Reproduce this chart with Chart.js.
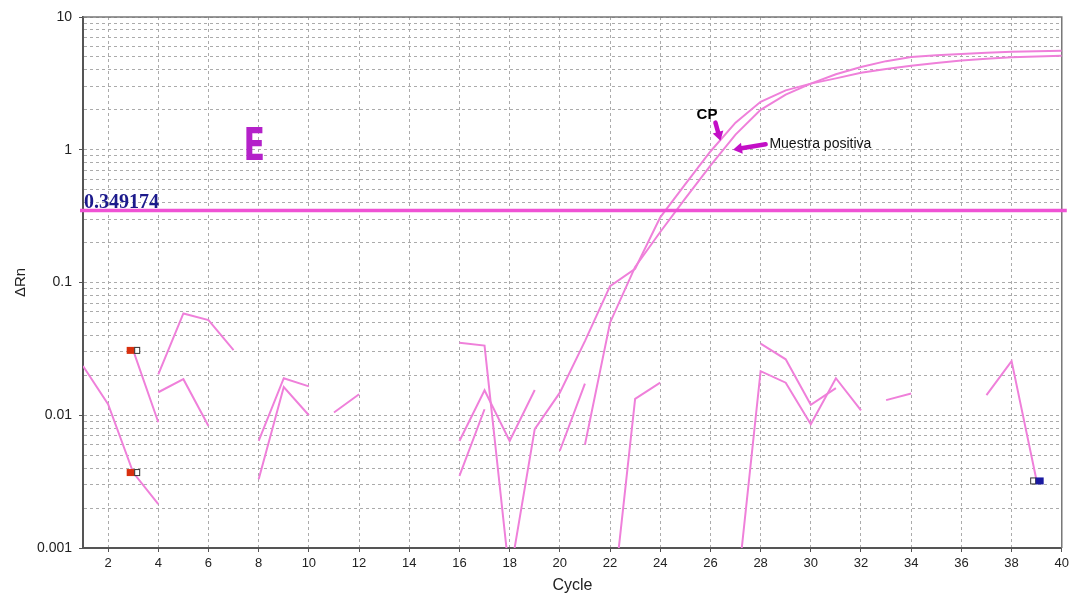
<!DOCTYPE html>
<html lang="en">
<head>
  <meta charset="UTF-8">
  <script src="https://cdn.jsdelivr.net/npm/chart.js@4.4.1/dist/chart.umd.min.js"></script>
  <style>
    body { margin: 0; background: #fff; }
    #wrap { width: 1073px; height: 598px; position: relative; }
  </style>
  <title>qPCR amplification</title>
</head>
<body>
  <div id="wrap"><canvas id="chart"></canvas></div>

  <script>
    // cycles on the x axis
    const cycles = [1, 2, 3, 4, 5, 6, 7, 8, 9, 10, 11, 12, 13, 14, 15, 16, 17, 18, 19, 20,
      21, 22, 23, 24, 25, 26, 27, 28, 29, 30, 31, 32, 33, 34, 35, 36, 37, 38, 39, 40];

    // delta Rn per cycle, null where the value is negative (not drawn on a log axis)
    const sampleA = [null, null, null, 0.0203, 0.0585, 0.0521, 0.031, null, null, null,
      0.0105, 0.0144, null, null, null, 0.0352, 0.0335, 0.0006, 0.00785, 0.0148,
      0.0362, 0.094, 0.127, 0.31, 0.55, 0.97, 1.6, 2.3, 2.8, 3.15,
      3.45, 3.8, 4.05, 4.3, 4.5, 4.7, 4.85, 4.98, 5.05, 5.1];
    const sampleB = [null, null, null, 0.0149, 0.0187, 0.0083, null, null, null, null,
      null, null, null, null, null, null, null, null, null, null,
      0.006, 0.0498, 0.131, 0.24, 0.43, 0.76, 1.3, 2.0, 2.6, 3.15,
      3.7, 4.2, 4.65, 5.0, 5.15, 5.27, 5.38, 5.47, 5.53, 5.58];
    const sampleC = [0.0235, 0.0121, 0.0037, 0.00214, null, null, null, 0.0064, 0.019, 0.0165,
      null, null, null, null, null, 0.0064, 0.0154, 0.0064, 0.0155, null,
      null, 0.00025, 0.0133, 0.0176, null, null, 0.00036, 0.0215, 0.0176, 0.00855,
      0.019, 0.0109, null, null, null, null, null, null, null, null];
    const sampleD = [null, null, 0.0308, 0.00885, null, null, null, 0.0033, 0.0163, 0.01,
      null, null, null, null, null, 0.0035, 0.0111, null, null, 0.0054,
      0.0173, null, null, null, null, null, null, 0.0346, 0.0264, 0.012,
      0.016, null, 0.013, 0.0146, null, null, 0.0142, 0.0256, 0.0032, null];

    const threshold = 0.349174;
    const baselineStart = 3;
    const baselineEnd = 39;

    const xTickValues = [2, 4, 6, 8, 10, 12, 14, 16, 18, 20, 22, 24, 26, 28, 30, 32, 34, 36, 38, 40];
    const yTickValues = [0.001, 0.01, 0.1, 1, 10];
    const yTickLabels = ['0.001', '0.01', '0.1', '1', '10'];
    // every 1..9 step of each decade gets a grid line
    const yGridValues = [];
    yTickValues.forEach(function (d, i) {
      if (i === yTickValues.length - 1) { yGridValues.push(d); return; }
      for (let m = 1; m <= 9; m++) yGridValues.push(+(d * m).toPrecision(3));
    });

    const allSamples = [sampleA, sampleB, sampleC, sampleD];
    // the baseline markers are shown on the negative samples only
    const markedSamples = [sampleC, sampleD];

    function isLabelled(v) {
      return yTickValues.findIndex(function (t) { return Math.abs(t - v) / t < 1e-6; });
    }

    const curveColor = '#ef80da';

    const datasets = allSamples.map(function (s, i) {
      return {
        label: 'Sample ' + (i + 1),
        data: cycles.map(function (c, j) { return { x: c, y: s[j] }; }),
        borderColor: curveColor,
        borderWidth: 2,
        pointRadius: 0,
        spanGaps: false,
        tension: 0
      };
    });

    function arrow(ctx, x1, y1, x2, y2, color) {
      const ang = Math.atan2(y2 - y1, x2 - x1);
      const head = 9;
      ctx.save();
      ctx.strokeStyle = color;
      ctx.fillStyle = color;
      ctx.lineWidth = 4.5;
      ctx.lineCap = 'round';
      ctx.beginPath();
      ctx.moveTo(x1, y1);
      ctx.lineTo(x2 - Math.cos(ang) * head * 0.8, y2 - Math.sin(ang) * head * 0.8);
      ctx.stroke();
      ctx.beginPath();
      ctx.moveTo(x2, y2);
      ctx.lineTo(x2 - Math.cos(ang) * head - Math.sin(ang) * 5.5, y2 - Math.sin(ang) * head + Math.cos(ang) * 5.5);
      ctx.lineTo(x2 - Math.cos(ang) * head + Math.sin(ang) * 5.5, y2 - Math.sin(ang) * head - Math.cos(ang) * 5.5);
      ctx.closePath();
      ctx.fill();
      ctx.restore();
    }

    // frame, threshold, baseline markers and the hand-made notes
    const extras = {
      id: 'extras',
      beforeDatasetsDraw(chart) {
        const { ctx, chartArea: a } = chart;
        ctx.save();
        ctx.strokeStyle = '#777';
        ctx.lineWidth = 1.5;
        ctx.beginPath();
        ctx.moveTo(a.left, a.top);
        ctx.lineTo(a.right, a.top);
        ctx.lineTo(a.right, a.bottom);
        ctx.stroke();
        ctx.restore();
      },
      afterDatasetsDraw(chart) {
        const { ctx, chartArea: a } = chart;
        const xs = chart.scales.x, ys = chart.scales.y;

        // threshold line
        const ty = ys.getPixelForValue(threshold);
        ctx.save();
        ctx.strokeStyle = '#ef52d4';
        ctx.lineWidth = 3.5;
        ctx.beginPath();
        ctx.moveTo(a.left - 3, ty);
        ctx.lineTo(a.right + 5, ty);
        ctx.stroke();
        ctx.fillStyle = '#1c1a8c';
        ctx.font = 'bold 20px "Liberation Serif"';
        ctx.textBaseline = 'alphabetic';
        ctx.fillText(String(threshold), a.left + 1, ty - 2);
        ctx.restore();

        // baseline start / end markers
        markedSamples.forEach(function (s) {
          const vs = s[cycles.indexOf(baselineStart)];
          if (vs != null) {
            const px = xs.getPixelForValue(baselineStart), py = ys.getPixelForValue(vs);
            ctx.save();
            ctx.fillStyle = '#d8300f';
            ctx.fillRect(px - 6.5, py - 3.5, 8, 7);
            ctx.fillStyle = '#fff';
            ctx.strokeStyle = '#333';
            ctx.lineWidth = 1;
            ctx.fillRect(px + 1.5, py - 3, 5, 6);
            ctx.strokeRect(px + 1.5, py - 3, 5, 6);
            ctx.restore();
          }
          const ve = s[cycles.indexOf(baselineEnd)];
          if (ve != null) {
            const px = xs.getPixelForValue(baselineEnd), py = ys.getPixelForValue(ve);
            ctx.save();
            ctx.fillStyle = '#fff';
            ctx.strokeStyle = '#333';
            ctx.lineWidth = 1;
            ctx.fillRect(px - 6, py - 3, 5, 6);
            ctx.strokeRect(px - 6, py - 3, 5, 6);
            ctx.fillStyle = '#1a1aa0';
            ctx.fillRect(px - 1, py - 3.5, 8, 7);
            ctx.restore();
          }
        });

        // panel letter
        ctx.save();
        ctx.fillStyle = '#b421c9';
        ctx.font = 'bold 45px "DejaVu Sans"';
        ctx.textBaseline = 'alphabetic';
        ctx.translate(xs.getPixelForValue(7.4), ys.getPixelForValue(0.84));
        ctx.scale(0.7, 1);
        ctx.fillText('E', 0, 0);
        ctx.restore();

        // CP note
        ctx.save();
        ctx.fillStyle = '#000';
        ctx.font = 'bold 15px "Liberation Sans"';
        ctx.fillText('CP', xs.getPixelForValue(25.45), ys.getPixelForValue(1.71));
        ctx.fillStyle = '#111';
        ctx.font = '14px "Liberation Sans"';
        ctx.fillText('Muestra positiva', xs.getPixelForValue(28.35), ys.getPixelForValue(1.03));
        ctx.restore();
        arrow(ctx, xs.getPixelForValue(26.2), ys.getPixelForValue(1.6),
          xs.getPixelForValue(26.4), ys.getPixelForValue(1.17), '#c30fc6');
        arrow(ctx, xs.getPixelForValue(28.2), ys.getPixelForValue(1.1),
          xs.getPixelForValue(26.9), ys.getPixelForValue(1.0), '#c30fc6');
      }
    };

    const gridColor = '#ababab';

    const chart = new Chart(document.getElementById('chart'), {
      type: 'line',
      data: { datasets: datasets },
      options: {
        responsive: true,
        maintainAspectRatio: false,
        animation: false,
        layout: { padding: { top: 17, right: 9, left: 0, bottom: 0 } },
        plugins: { legend: { display: false }, tooltip: { enabled: false } },
        scales: {
          x: {
            type: 'linear',
            min: 1,
            max: 40,
            afterBuildTicks: function (s) { s.ticks = xTickValues.map(function (v) { return { value: v }; }); },
            afterFit: function (s) { s.height = 50; },
            ticks: {
              autoSkip: false,
              maxRotation: 0,
              padding: 4,
              color: '#222',
              font: { family: 'Liberation Sans', size: 13 }
            },
            grid: { color: gridColor, lineWidth: 1, tickLength: 4, tickColor: '#555' },
            border: { display: true, color: '#555', width: 2, dash: [3, 3] },
            title: {
              display: true,
              text: 'Cycle',
              color: '#222',
              font: { family: 'Liberation Sans', size: 16 },
              padding: { top: 0, bottom: 3 }
            }
          },
          y: {
            type: 'logarithmic',
            min: 0.001,
            max: 10,
            afterBuildTicks: function (s) { s.ticks = yGridValues.map(function (v) { return { value: v }; }); },
            afterFit: function (s) { s.width = 83; },
            ticks: {
              autoSkip: false,
              padding: 7,
              color: '#222',
              font: { family: 'Liberation Sans', size: 14 },
              callback: function (v) {
                const i = isLabelled(v);
                return i >= 0 ? yTickLabels[i] : '';
              }
            },
            grid: {
              color: gridColor,
              lineWidth: 1,
              tickLength: 4,
              tickColor: function (c) { return c.tick && isLabelled(c.tick.value) >= 0 ? '#555' : 'rgba(0,0,0,0)'; }
            },
            border: { display: true, color: '#555', width: 2, dash: [3, 3] },
            title: {
              display: true,
              text: 'ΔRn',
              color: '#222',
              font: { family: 'Liberation Sans', size: 15 },
              padding: { top: 12, bottom: 0 }
            }
          }
        }
      },
      plugins: [extras]
    });
  </script>
</body>
</html>
